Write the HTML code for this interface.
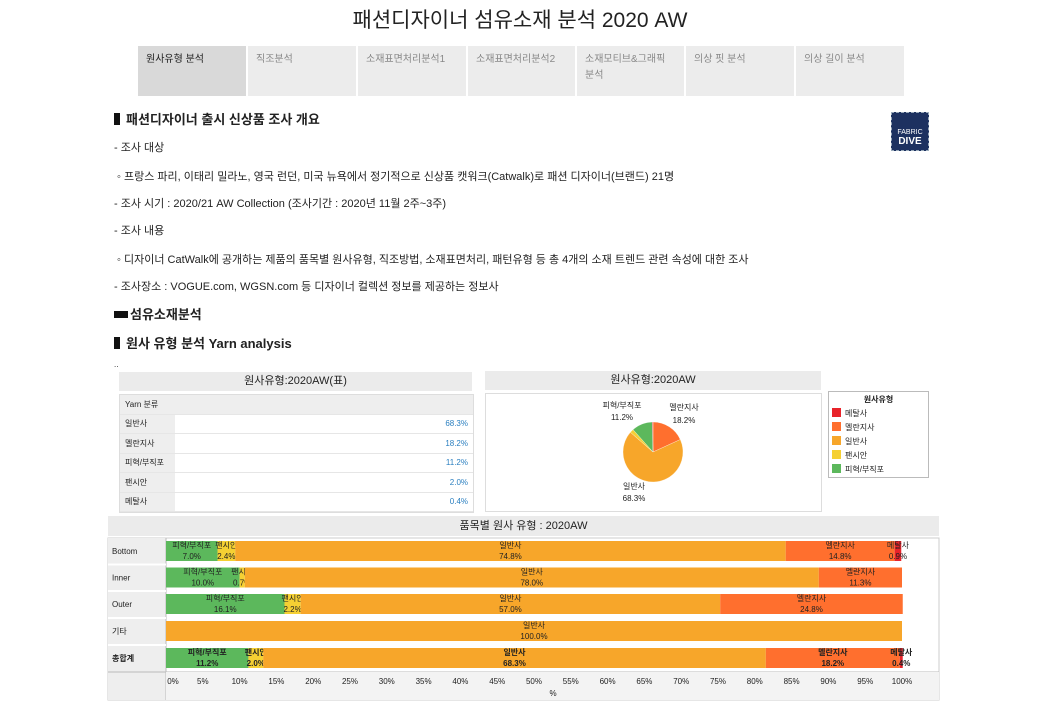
<!DOCTYPE html>
<html><head><meta charset="utf-8">
<style>
body{margin:0;width:1040px;height:720px;background:#fff;font-family:"Liberation Sans","Noto Sans CJK KR",sans-serif;color:#222;position:relative;overflow:hidden}
.abs{position:absolute}
h1{position:absolute;top:4px;left:0;width:1040px;text-align:center;font-size:21px;font-weight:normal;margin:0}
.tab{position:absolute;top:46px;height:50px;background:#ececec;font-size:10px;color:#888;padding:6px 8px;box-sizing:border-box;line-height:16px}
.txt{position:absolute;left:114px;font-size:11px;color:#222}
.hd{position:absolute;left:114px;font-size:13px;font-weight:bold}
.bar{display:inline-block;width:6px;height:12px;background:#111;margin-right:6px;vertical-align:-1px}
table{border-collapse:collapse;font-size:8px}
td{border-bottom:1px solid #e6e6e6;height:18.5px;padding:0 5px}
</style></head><body>
<h1>패션디자이너 섬유소재 분석 2020 AW</h1>
<div class="tab" style="left:138px;width:108px;background:#d9d9d9;color:#222">원사유형 분석</div>
<div class="tab" style="left:248px;width:108px">직조분석</div>
<div class="tab" style="left:358px;width:108px">소재표면처리분석1</div>
<div class="tab" style="left:468px;width:107px">소재표면처리분석2</div>
<div class="tab" style="left:577px;width:107px">소재모티브&amp;그래픽<br>분석</div>
<div class="tab" style="left:686px;width:108px">의상 핏 분석</div>
<div class="tab" style="left:796px;width:108px">의상 길이 분석</div>
<div class="abs" style="left:891px;top:112px;width:38px;height:39px;background:#1d3160;color:#fff;font-size:7px;text-align:center;line-height:9px;box-sizing:border-box;padding-top:15px;border:1px dashed #9ab">FABRIC<br><b style="font-size:10px">DIVE</b></div>
<div class="hd" style="top:109px"><span class="bar"></span>패션디자이너 출시 신상품 조사 개요</div>
<div class="txt" style="top:139px">- 조사 대상</div>
<div class="txt" style="top:168px">&nbsp;◦ 프랑스 파리, 이태리 밀라노, 영국 런던, 미국 뉴욕에서 정기적으로 신상품 캣워크(Catwalk)로 패션 디자이너(브랜드) 21명</div>
<div class="txt" style="top:195px">- 조사 시기 : 2020/21 AW Collection (조사기간 : 2020년 11월 2주~3주)</div>
<div class="txt" style="top:222px">- 조사 내용</div>
<div class="txt" style="top:251px">&nbsp;◦ 디자이너 CatWalk에 공개하는 제품의 품목별 원사유형, 직조방법, 소재표면처리, 패턴유형 등 총 4개의 소재 트렌드 관련 속성에 대한 조사</div>
<div class="txt" style="top:278px">- 조사장소 : VOGUE.com, WGSN.com 등 디자이너 컬렉션 정보를 제공하는 정보사</div>
<div class="hd" style="top:304px"><span class="bar" style="width:14px;height:7px;vertical-align:1px;margin-right:2px"></span>섬유소재분석</div>
<div class="hd" style="top:333px"><span class="bar"></span>원사 유형 분석 Yarn analysis</div>
<div class="txt" style="top:360px;font-size:8px">..</div>

<div class="abs" style="left:119px;top:372px;width:353px;height:19px;background:#ebebeb;text-align:center;font-size:11px;line-height:19px">원사유형:2020AW(표)</div>
<div class="abs" style="left:119px;top:394px;width:353px;border:1px solid #ddd">
<table style="width:100%">
<tr style="background:#eee"><td style="width:45px;height:13px;background:#eee">Yarn 분류</td><td></td></tr>
<tr><td style="background:#eee">일반사</td><td style="text-align:right;color:#2a7fc0">68.3%</td></tr>
<tr><td style="background:#eee">멜란지사</td><td style="text-align:right;color:#2a7fc0">18.2%</td></tr>
<tr><td style="background:#eee">피혁/부직포</td><td style="text-align:right;color:#2a7fc0">11.2%</td></tr>
<tr><td style="background:#eee">팬시안</td><td style="text-align:right;color:#2a7fc0">2.0%</td></tr>
<tr><td style="background:#eee">메탈사</td><td style="text-align:right;color:#2a7fc0">0.4%</td></tr>
</table></div>

<div class="abs" style="left:485px;top:371px;width:336px;height:19px;background:#ebebeb;text-align:center;font-size:11px;line-height:19px">원사유형:2020AW</div>
<div class="abs" style="left:485px;top:393px;width:335px;height:117px;border:1px solid #ddd"></div>
<div class="abs" style="left:828px;top:391px;width:99px;height:85px;border:1px solid #bbb;font-size:8px">
<div style="text-align:center;font-weight:bold;margin-top:2px">원사유형</div>
<div id="legend"></div></div>

<div class="abs" style="left:108px;top:516px;width:831px;height:20px;background:#ebebeb;text-align:center;font-size:11px;line-height:20px">품목별 원사 유형 : 2020AW</div>

<svg id="svg" class="abs" style="left:0;top:0" width="1040" height="720"></svg>

<script>
const series = ["피혁/부직포","팬시안","일반사","멜란지사","메탈사"];
const colors = ["#5cb85c","#f5d033","#f7a62a","#ff6f2e","#e8232a"];
const categories = ["Bottom","Inner","Outer","기타","총합계"];
const leather = [7.0,10.0,16.1,0,11.2];
const fancy = [2.4,0.7,2.2,0,2.0];
const normal = [74.8,78.0,57.0,100,68.3];
const melange = [14.8,11.3,24.8,0,18.2];
const metal = [0.9,0,0,0,0.4];
const xTicks = [0,5,10,15,20,25,30,35,40,45,50,55,60,65,70,75,80,85,90,95,100];
const pieLabels = ["멜란지사","일반사","팬시안","피혁/부직포","메탈사"];
const pieValues = [18.2,68.3,2.0,11.2,0.4];
const legendNames = ["메탈사","멜란지사","일반사","팬시안","피혁/부직포"];

const NS="http://www.w3.org/2000/svg";
const svg=document.getElementById('svg');
function mk(t,a,p){const e=document.createElementNS(NS,t);for(const k in a)e.setAttribute(k,a[k]);(p||svg).appendChild(e);return e;}
const F='"Liberation Sans","Noto Sans CJK KR",sans-serif';

// legend
const lg=document.getElementById('legend');
const legCol={"메탈사":"#e8232a","멜란지사":"#ff6f2e","일반사":"#f7a62a","팬시안":"#f5d033","피혁/부직포":"#5cb85c"};
legendNames.forEach(n=>{const d=document.createElement('div');


d.style.cssText='margin:3px 0 0 3px;height:11px;line-height:11px';
d.innerHTML='<span style="display:inline-block;width:9px;height:9px;background:'+legCol[n]+';vertical-align:-1px;margin-right:4px"></span>'+n;lg.appendChild(d);});

// pie
const cx=653,cy=452,r=30;
const pieCol={"멜란지사":"#ff6f2e","일반사":"#f7a62a","팬시안":"#f5d033","피혁/부직포":"#5cb85c","메탈사":"#e8232a"};
const tot=pieValues.reduce((a,b)=>a+b,0);
let ang=0;
pieValues.forEach((v,i)=>{
 const a0=ang/tot*2*Math.PI, a1=(ang+v)/tot*2*Math.PI; ang+=v;
 const x0=cx+r*Math.sin(a0),y0=cy-r*Math.cos(a0),x1=cx+r*Math.sin(a1),y1=cy-r*Math.cos(a1);
 const p=mk('path',{d:`M${cx},${cy}L${x0},${y0}A${r},${r} 0 ${a1-a0>Math.PI?1:0} 1 ${x1},${y1}Z`,fill:pieCol[pieLabels[i]],stroke:'#fff','stroke-width':0.3});
 
 
});
[[684,410,"멜란지사"],[684,423,"18.2%"],[622,408,"피혁/부직포"],[622,420,"11.2%"],[634,489,"일반사"],[634,501,"68.3%"]].forEach(t=>{
 const e=mk('text',{x:t[0],y:t[1],'font-size':8,'text-anchor':'middle','font-family':F,fill:'#222'});e.textContent=t[2];
 
 
});

// bar chart
const X0=166,X1=902; const xs=v=>X0+(X1-X0)*v/100;
const rowTop=[541,567.5,594,621,648], bh=20;
mk('rect',{x:108,y:538,width:831,height:162,fill:'#fff',stroke:'#ccc'});
mk('rect',{x:108,y:538,width:58,height:162,fill:'#eee'});
mk('line',{x1:166,y1:538,x2:166,y2:700,stroke:'#bbb'});
mk('line',{x1:108,y1:672,x2:939,y2:672,stroke:'#bbb'});
mk('rect',{x:166,y:672,width:773,height:28,fill:'#f3f3f3'});
const data=[leather,fancy,normal,melange,metal];
categories.forEach((c,i)=>{
 const ry=rowTop[i];
 if(i>0) mk('line',{x1:108,y1:ry-3,x2:166,y2:ry-3,stroke:'#fff','stroke-width':2});
 const bold=i==categories.length-1;
 const lt=mk('text',{x:112,y:ry+13,'font-size':8,'font-family':F,'font-weight':bold?'bold':'normal',fill:'#222'});lt.textContent=c;
 
 
 let acc=0;
 series.forEach((s,j)=>{
  const v=data[j][i]; if(v<=0) return;
  const x=xs(acc),w=xs(acc+v)-x; acc+=v;
  const b=mk('rect',{x:x,y:ry,width:w,height:bh,fill:colors[j]});
  
  
  const mx=x+w/2;
  const t1=mk('text',{x:mx,y:ry+7,'font-size':8,'text-anchor':'middle','font-family':F,'font-weight':bold?'bold':'normal',fill:'#222'});t1.textContent=s==='일반사'||true?s:'';
  
  
  const t2=mk('text',{x:mx,y:ry+18,'font-size':8,'text-anchor':'middle','font-family':F,'font-weight':bold?'bold':'normal',fill:'#222'});t2.textContent=v.toFixed(1)+'%';
  
  
 });
});
xTicks.forEach(v=>{
 const t=mk('text',{x:xs(v)+(v===0?7:0),y:684,'font-size':8,'text-anchor':'middle','font-family':F,fill:'#222'});t.textContent=v+'%';
 
 
});
const xt=mk('text',{x:553,y:696,'font-size':8,'text-anchor':'middle','font-family':F,fill:'#222'});xt.textContent='%';


</script>
</body></html>
